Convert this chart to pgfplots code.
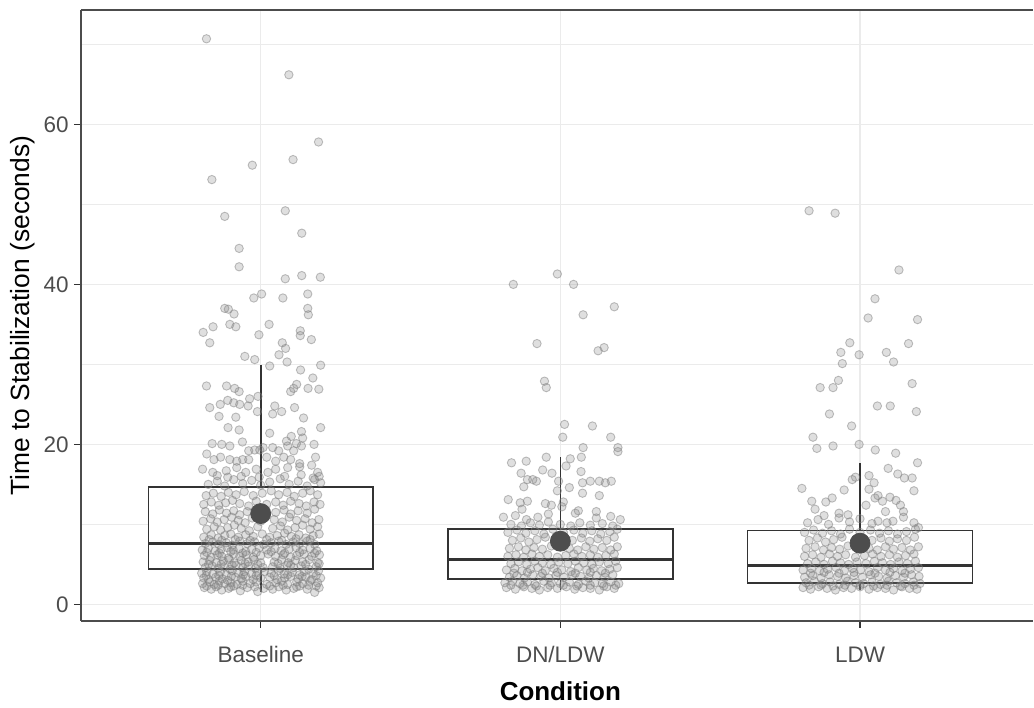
\documentclass[border=0pt]{standalone}
\usepackage{fontspec}
\setmainfont{Liberation Sans}
\usepackage{pgfplots}
\pgfplotsset{compat=1.18}
\usepgfplotslibrary{statistics}
\definecolor{gridc}{HTML}{EBEBEB}
\definecolor{framec}{HTML}{333333}
\definecolor{tickc}{HTML}{4D4D4D}
\definecolor{ptc}{HTML}{808080}
\definecolor{meanc}{HTML}{4D4D4D}

\begin{document}
\begin{tikzpicture}
\begin{axis}[
  name=ax, scale only axis, width=476.5pt, height=305.8pt,
  xmin=0.4, xmax=3.577, ymin=-2.07, ymax=74.3,
  axis x line*=box, axis y line*=left,
  x axis line style={-}, y axis line style={-},
  axis line style={black!70, line width=1.1pt},
  xtick={1,2,3}, xticklabels={Baseline,DN/LDW,LDW},
  ytick={0,20,40,60}, minor ytick={10,30,50,70},
  tick align=outside, xtick pos=bottom, ytick pos=left,
  major tick length=3.5pt, minor tick length=0pt,
  tick style={framec, line width=0.6pt},
  grid=both,
  major grid style={gridc, line width=0.6pt},
  minor grid style={gridc, line width=0.35pt},
  boxplot/draw direction=y,
  /pgf/number format/assume math mode=true,
  ticklabel style={font=\fontsize{11.25}{13}\selectfont, text=tickc},
  yticklabel style={inner sep=2.5pt},
  xticklabel style={anchor=base, yshift=-17.2pt},
  xlabel={Condition},
  xlabel style={font=\fontsize{13}{15}\selectfont\bfseries, at={(axis description cs:0.5036,-0.1308)}, anchor=base},
  ylabel={Time to Stabilization (seconds)},
  ylabel style={font=\fontsize{13.2}{15}\selectfont, at={(axis description cs:-0.0609,0.5)}, anchor=center},
]
% boxes
\addplot[draw=framec, fill=white, line width=0.8pt, boxplot prepared={draw position=1, box extend=0.75, lower whisker=1.5, lower quartile=4.45, median=7.65, upper quartile=14.7, upper whisker=29.9, whisker extend=0, every median/.style={line width=1.6pt}}] coordinates {};
\addplot[draw=framec, fill=white, line width=0.8pt, boxplot prepared={draw position=2, box extend=0.75, lower whisker=1.8, lower quartile=3.2, median=5.6, upper quartile=9.45, upper whisker=18.4, whisker extend=0, every median/.style={line width=1.6pt}}] coordinates {};
\addplot[draw=framec, fill=white, line width=0.8pt, boxplot prepared={draw position=3, box extend=0.75, lower whisker=1.8, lower quartile=2.7, median=4.9, upper quartile=9.24, upper whisker=17.7, whisker extend=0, every median/.style={line width=1.6pt}}] coordinates {};

% jittered points: Baseline
\addplot[only marks, mark=*, mark size=2.1pt, mark options={draw=ptc, fill=ptc, draw opacity=0.5, fill opacity=0.25, line width=0.45pt}] coordinates {
(0.819,70.7) (1.094,66.2) (1.193,57.8) (1.108,55.6) (0.972,54.9) (0.837,53.1) (1.082,49.2) (0.880,48.5) (1.137,46.4) (0.928,44.5)
(0.928,42.2) (1.137,41.1) (1.199,40.9) (1.082,40.7) (1.003,38.8) (1.157,38.8) (0.977,38.3) (1.074,38.3) (0.880,37.0) (0.892,36.9)
(1.157,37.0) (0.911,36.3) (1.159,36.2) (0.808,34.0) (0.841,34.7) (0.897,35.0) (0.917,34.7) (1.028,35.0) (0.994,33.7) (0.830,32.7)
(1.132,34.2) (1.132,33.6) (1.169,33.1) (1.072,32.7) (1.083,32.0) (1.061,31.2) (0.947,31.0) (0.980,30.6) (1.088,30.3) (1.030,29.8)
(1.200,29.9) (1.133,29.3) (1.174,28.3) (1.120,27.5) (1.110,27.0) (1.100,26.6) (0.819,27.3) (0.886,27.3) (0.913,27.0) (0.928,26.6)
(1.194,26.9) (1.158,27.0) (0.991,26.0) (0.963,25.7) (0.830,24.6) (0.865,25.0) (0.890,25.5) (0.910,25.2) (0.930,25.0) (0.958,24.8)
(1.047,24.8) (1.113,24.6) (0.861,23.5) (0.917,23.4) (0.989,24.1) (1.040,23.8) (1.070,24.1) (1.143,23.3) (0.891,22.1) (0.928,21.8)
(1.030,21.4) (1.136,21.6) (1.200,22.1) (1.086,20.4) (1.102,21.0) (1.119,20.1) (0.838,20.1) (0.870,20.0) (0.897,19.8) (0.939,20.3)
(1.140,20.8) (1.136,19.8) (1.178,20.0) (1.008,19.6) (0.960,19.2) (0.980,19.3) (0.997,19.3) (1.040,19.6) (1.060,19.2) (1.090,19.8)
(1.110,19.2) (0.820,18.8) (0.844,18.1) (0.866,18.4) (0.897,18.1) (0.920,17.9) (0.940,18.1) (0.960,18.1) (1.020,18.4) (1.050,17.9)
(1.077,18.4) (1.100,18.1) (1.130,17.6) (1.183,18.4) (0.806,16.9) (0.840,16.5) (0.885,16.7) (0.920,17.1) (0.950,16.5) (0.985,16.9)
(1.024,16.5) (1.050,16.9) (1.090,17.1) (1.130,17.2) (1.170,17.4) (1.190,16.5) (0.855,16.1) (0.890,15.9) (0.935,16.0) (0.995,15.9)
(1.080,16.0) (1.135,16.2) (1.175,15.8) (1.195,16.0)
(0.825,15.0) (0.855,15.4) (0.880,14.8) (0.910,15.6) (0.940,15.1) (0.970,15.5) (1.000,14.9) (1.030,15.3) (1.065,15.7) (1.095,15.0)
(1.125,15.4) (1.155,14.8) (1.180,15.6) (1.200,15.2)
(0.818,13.6) (0.842,13.9) (0.868,13.5) (0.892,14.0) (0.918,13.7) (0.945,14.1) (0.975,13.6) (1.005,13.9) (1.035,14.2) (1.060,13.7)
(1.088,14.0) (1.112,13.5) (1.140,13.9) (1.165,14.2) (1.190,13.7)
(0.810,12.5) (0.835,12.8) (0.860,12.4) (0.883,12.7) (0.906,13.0) (0.930,12.6) (0.960,12.3) (0.985,12.9) (1.020,12.5) (1.050,12.8)
(1.075,12.4) (1.100,12.9) (1.128,12.6) (1.152,12.3) (1.178,12.8) (1.198,12.5)
(0.815,11.6) (0.840,11.3) (0.862,11.8) (0.886,11.4) (0.910,11.7) (0.930,11.2) (0.955,11.6) (1.050,11.5) (1.078,11.8) (1.100,11.3)
(1.125,11.7) (1.155,11.4) (1.180,11.9)
(0.808,10.4) (0.833,10.7) (0.855,10.3) (0.878,10.6) (0.903,10.9) (0.925,10.5) (0.948,10.2) (0.972,10.8) (1.000,10.4) (1.045,10.6)
(1.072,10.3) (1.095,10.9) (1.120,10.5) (1.148,10.7) (1.172,10.2) (1.194,10.6)
(0.820,9.4) (0.845,9.7) (0.866,9.3) (0.890,9.6) (0.912,9.9) (0.935,9.5) (0.962,9.2) (0.990,9.7) (1.040,9.5) (1.066,9.8)
(1.090,9.3) (1.115,9.6) (1.140,9.9) (1.165,9.4) (1.190,9.7)
(0.810,8.4) (0.835,8.7) (0.858,8.3) (0.880,8.6) (0.900,8.8) (0.925,8.4) (0.950,8.7) (0.975,8.5) (1.005,8.8) (1.030,8.4)
(1.055,8.6) (1.080,8.9) (1.102,8.5) (1.128,8.7) (1.150,8.3) (1.175,8.6) (1.195,8.8)
(0.828,8.1) (0.870,8.0) (0.915,8.1) (0.965,8.0) (1.020,8.1) (1.070,8.0) (1.118,8.2) (1.165,8.1)
(0.815,7.6) (0.840,7.8) (0.860,7.5) (0.885,7.7) (0.905,7.4) (0.930,7.9) (0.955,7.6) (0.980,7.8) (1.010,7.5) (1.035,7.7)
(1.060,7.9) (1.085,7.5) (1.108,7.8) (1.130,7.6) (1.155,7.9) (1.180,7.5)
(0.805,6.8) (0.825,7.0) (0.848,6.7) (0.868,6.9) (0.888,7.1) (0.908,6.8) (0.928,7.0) (0.950,6.6) (0.970,6.9) (0.995,7.1)
(1.020,6.8) (1.048,7.0) (1.068,6.7) (1.095,6.9) (1.118,7.1) (1.140,6.8) (1.165,7.0) (1.187,6.7)
(0.820,6.5) (0.862,6.4) (0.900,6.6) (0.940,6.4) (0.985,6.5) (1.035,6.6) (1.080,6.4) (1.130,6.5) (1.180,6.4)
(0.812,6.1) (0.834,5.9) (0.855,6.2) (0.870,6.0) (0.892,5.8) (0.910,6.3) (0.930,6.0) (0.952,6.2) (0.975,5.9) (1.000,6.1)
(1.025,6.3) (1.050,6.0) (1.075,6.2) (1.100,5.9) (1.120,6.1) (1.145,6.3) (1.170,6.0) (1.196,6.2)
(0.808,5.3) (0.830,5.5) (0.852,5.2) (0.875,5.4) (0.895,5.6) (0.912,5.2) (0.935,5.5) (0.958,5.3) (0.978,5.6) (1.000,5.2) (1.045,5.3)
(1.070,5.6) (1.092,5.2) (1.115,5.5) (1.140,5.3) (1.162,5.6) (1.190,5.2)
(0.826,5.0) (0.868,5.0) (0.905,4.9) (0.948,5.1) (0.990,5.0) (1.058,5.1) (1.100,4.9) (1.150,5.0) (1.195,5.1)
(0.815,4.6) (0.838,4.8) (0.858,4.5) (0.878,4.7) (0.898,4.4) (0.918,4.9) (0.940,4.6) (0.960,4.8) (0.982,4.5) (1.008,4.6) (1.040,4.7)
(1.065,4.5) (1.088,4.9) (1.110,4.6) (1.135,4.8) (1.160,4.4) (1.185,4.7)
(0.803,3.9) (0.820,4.1) (0.840,3.8) (0.865,4.0) (0.885,3.7) (0.905,4.2) (0.925,3.9) (0.945,4.1) (0.970,3.8) (0.990,4.0) (1.012,4.1)
(1.035,3.9) (1.060,4.2) (1.078,3.8) (1.105,4.0) (1.130,3.7) (1.145,4.1) (1.175,3.9) (1.193,4.2)
(0.818,3.6) (0.860,3.6) (0.902,3.5) (0.942,3.7) (0.985,3.6) (1.045,3.6) (1.090,3.7) (1.138,3.5) (1.185,3.6)
(0.810,3.3) (0.826,3.1) (0.850,3.4) (0.872,3.2) (0.890,3.0) (0.915,3.4) (0.935,3.2) (0.950,3.5) (0.975,3.1) (1.000,3.3)
(1.030,3.4) (1.055,3.1) (1.080,3.3) (1.100,3.5) (1.125,3.2) (1.150,3.4) (1.170,3.1) (1.200,3.3)
(0.806,2.6) (0.830,2.8) (0.845,2.5) (0.862,2.9) (0.880,2.6) (0.900,2.7) (0.921,2.5) (0.940,2.9) (0.965,2.6) (0.985,2.8)
(1.020,2.5) (1.050,2.7) (1.070,2.9) (1.090,2.5) (1.120,2.8) (1.140,2.6) (1.165,2.9) (1.190,2.7)
(0.820,2.3) (0.858,2.4) (0.900,2.2) (0.940,2.4) (0.980,2.2) (1.030,2.3) (1.075,2.4) (1.120,2.2) (1.160,2.4) (1.185,2.3)
(0.812,2.1) (0.835,1.9) (0.851,2.2) (0.870,1.8) (0.893,2.0) (0.910,2.3) (0.932,1.7) (0.955,2.1) (0.990,1.6) (1.010,2.0)
(1.040,1.9) (1.060,2.2) (1.085,1.8) (1.110,2.0) (1.130,2.3) (1.155,1.9) (1.180,1.5) (1.195,2.1)
};

% jittered points: DN/LDW
\addplot[only marks, mark=*, mark size=2.1pt, mark options={draw=ptc, fill=ptc, draw opacity=0.5, fill opacity=0.25, line width=0.45pt}] coordinates {
(1.843,40.0) (1.990,41.3) (2.044,40.0) (2.180,37.2) (2.076,36.2) (1.922,32.6) (2.126,31.7) (2.146,32.1) (1.947,27.9) (1.953,27.1)
(2.014,22.5) (2.107,22.3) (2.008,20.9) (2.168,20.9) (2.076,19.6) (2.192,19.6) (2.192,19.1) (1.953,18.4) (1.837,17.7) (1.886,17.9)
(2.033,18.2) (2.070,18.4) (1.941,16.8) (1.972,16.4) (1.869,16.4) (1.908,15.6) (1.920,15.4) (1.890,15.6) (2.019,17.3) (2.069,16.6)
(2.074,15.2) (2.100,15.4) (2.130,15.4) (2.170,15.4) (2.150,15.2) (1.878,14.7) (1.994,15.4) (2.030,14.6) (1.990,14.2) (2.074,13.9)
(2.130,13.6) (1.826,13.1) (1.866,12.7) (1.890,12.9) (1.872,11.9) (1.950,12.6) (1.970,12.4) (2.005,12.2) (2.010,12.8) (2.060,11.7)
(2.120,11.6) (1.810,10.9) (1.850,11.1) (1.887,10.6) (1.925,10.9) (2.120,10.8) (2.168,11.0) (2.200,10.6) (1.960,11.3) (2.050,11.4)
(1.835,10.0) (1.870,9.8) (1.900,10.2) (1.930,9.9) (1.960,10.3) (2.000,10.0) (2.035,9.8) (2.065,10.2) (2.100,9.9) (2.140,10.1) (2.175,9.8)
(1.825,9.0) (1.855,9.3) (1.885,8.9) (1.915,9.2) (1.945,8.8) (1.975,9.4) (2.010,9.0) (2.045,9.3) (2.075,8.9) (2.105,9.2) (2.135,8.8) (2.165,9.1) (2.190,9.4)
(1.840,8.0) (1.868,8.3) (1.895,7.8) (1.922,8.1) (1.950,8.4) (2.040,8.0) (2.070,8.3) (2.098,7.9) (2.125,8.2) (2.155,8.0) (2.180,8.4)
(1.830,7.0) (1.860,7.2) (1.885,6.8) (1.912,7.1) (1.940,6.9) (1.970,7.3) (2.030,7.0) (2.058,6.8) (2.085,7.2) (2.112,6.9) (2.140,7.1) (2.168,6.8) (2.190,7.2)
(1.825,6.0) (1.852,6.2) (1.878,5.9) (1.905,6.3) (1.930,6.0) (1.958,6.2) (1.990,5.9) (2.018,6.1) (2.045,6.3) (2.072,6.0) (2.100,6.2) (2.125,5.9) (2.152,6.1) (2.180,6.3)
(1.835,5.1) (1.860,5.3) (1.888,5.0) (1.915,5.4) (1.940,5.2) (1.968,5.0) (1.995,5.3) (2.025,5.1) (2.050,5.4) (2.078,5.2) (2.105,5.0) (2.130,5.3) (2.160,5.1) (2.185,5.4)
(1.820,4.3) (1.848,4.5) (1.872,4.2) (1.900,4.4) (1.925,4.6) (1.950,4.2) (1.978,4.5) (2.005,4.3) (2.035,4.1) (2.060,4.6) (2.088,4.3) (2.110,4.5) (2.138,4.2) (2.165,4.4) (2.190,4.6)
(1.845,3.9) (1.890,4.0) (1.940,3.9) (1.990,4.0) (2.050,3.9) (2.100,4.0) (2.150,3.9)
(1.830,3.4) (1.855,3.6) (1.880,3.3) (1.908,3.7) (1.935,3.5) (1.962,3.3) (1.985,3.6) (2.012,3.4) (2.040,3.7) (2.068,3.5) (2.095,3.3) (2.120,3.6) (2.148,3.4) (2.175,3.7)
(1.815,2.7) (1.840,2.9) (1.865,2.6) (1.890,2.8) (1.915,2.5) (1.945,2.9) (1.970,2.7) (2.000,2.6) (2.030,2.8) (2.060,2.5) (2.085,2.9) (2.115,2.7) (2.140,2.6) (2.168,2.8) (2.195,2.6)
(1.835,2.4) (1.875,2.4) (1.920,2.3) (1.965,2.4) (2.010,2.4) (2.055,2.3) (2.100,2.4) (2.145,2.3) (2.185,2.4)
(1.820,2.1) (1.850,1.9) (1.878,2.2) (1.905,2.0) (1.930,1.8) (1.958,2.1) (1.990,2.0) (2.020,2.2) (2.048,1.9) (2.075,2.1) (2.100,2.0) (2.130,1.8) (2.155,2.2) (2.180,2.0)
};

% jittered points: LDW
\addplot[only marks, mark=*, mark size=2.1pt, mark options={draw=ptc, fill=ptc, draw opacity=0.5, fill opacity=0.25, line width=0.45pt}] coordinates {
(2.830,49.2) (2.917,48.9) (3.130,41.8) (3.050,38.2) (3.027,35.8) (3.192,35.6) (2.966,32.7) (2.936,31.5) (2.997,31.2) (2.941,30.1)
(3.088,31.5) (3.112,30.3) (3.162,32.6) (2.928,28.0) (2.910,27.1) (2.867,27.1) (3.174,27.6) (3.058,24.8) (3.101,24.8) (3.188,24.1)
(2.898,23.8) (2.972,22.3) (2.843,20.9) (2.856,19.5) (2.910,19.8) (2.997,20.0) (3.051,19.3) (3.119,18.9) (3.192,17.7) (3.094,17.0)
(3.126,16.3) (3.148,15.8) (3.174,15.8) (2.974,15.6) (3.030,16.1) (3.047,15.2) (2.985,15.9) (2.806,14.5) (3.180,14.2) (2.947,14.3)
(2.907,13.3) (2.886,12.8) (2.839,12.9) (3.030,14.4) (3.050,13.3) (3.060,13.6) (3.075,12.9) (3.100,13.4) (3.120,13.0) (3.135,12.4)
(3.145,11.6) (3.085,11.6) (3.020,12.4) (2.850,11.9) (2.880,11.1) (2.930,11.4) (2.960,11.2) (3.000,10.7) (3.060,10.4) (3.090,10.2) (3.195,9.6)
(2.825,10.2) (2.860,10.6) (2.895,10.0) (2.930,10.8) (2.965,10.3) (3.040,10.1) (3.110,10.4) (3.145,10.9) (3.180,10.2)
(2.815,9.0) (2.845,9.3) (2.875,8.9) (2.905,9.2) (2.935,8.8) (2.965,9.4) (3.000,9.0) (3.035,9.3) (3.065,8.9) (3.095,9.2) (3.125,8.8) (3.155,9.1) (3.185,9.4)
(2.830,8.0) (2.858,8.3) (2.885,7.8) (2.912,8.1) (2.940,8.4) (3.040,8.0) (3.070,8.3) (3.098,7.9) (3.125,8.2) (3.155,8.0) (3.182,8.4)
(2.820,7.0) (2.850,7.2) (2.878,6.8) (2.905,7.1) (2.932,6.9) (2.960,7.3) (3.030,7.0) (3.058,6.8) (3.085,7.2) (3.112,6.9) (3.140,7.1) (3.168,6.8) (3.195,7.2)
(2.815,6.0) (2.842,6.2) (2.870,5.9) (2.898,6.3) (2.925,6.0) (2.952,6.2) (2.985,5.9) (3.015,6.1) (3.042,6.3) (3.070,6.0) (3.098,6.2) (3.125,5.9) (3.152,6.1) (3.180,6.3)
(2.825,5.1) (2.852,5.3) (2.880,5.0) (2.908,5.4) (2.935,5.2) (2.962,5.0) (2.990,5.3) (3.020,5.1) (3.048,5.4) (3.075,5.2) (3.102,5.0) (3.130,5.3) (3.158,5.1) (3.185,5.4)
(2.810,4.3) (2.838,4.5) (2.865,4.2) (2.892,4.4) (2.920,4.6) (2.948,4.2) (2.975,4.5) (3.002,4.3) (3.030,4.1) (3.058,4.6) (3.085,4.3) (3.112,4.5) (3.140,4.2) (3.168,4.4) (3.195,4.6)
(2.835,3.9) (2.880,4.0) (2.930,3.9) (2.980,4.0) (3.050,3.9) (3.100,4.0) (3.150,3.9)
(2.815,3.4) (2.842,3.6) (2.870,3.3) (2.897,3.7) (2.925,3.5) (2.952,3.3) (2.980,3.6) (3.008,3.4) (3.035,3.7) (3.062,3.5) (3.090,3.3) (3.118,3.6) (3.145,3.4) (3.172,3.7) (3.197,3.5)
(2.820,2.7) (2.848,2.9) (2.875,2.6) (2.900,2.8) (2.930,2.5) (2.958,2.9) (2.985,2.7) (3.012,2.6) (3.040,2.8) (3.068,2.5) (3.095,2.9) (3.122,2.7) (3.150,2.6) (3.178,2.8) (3.200,2.6)
(2.830,2.4) (2.870,2.4) (2.910,2.3) (2.950,2.4) (3.000,2.4) (3.045,2.3) (3.090,2.4) (3.135,2.3) (3.180,2.4)
(2.810,2.1) (2.835,1.9) (2.862,2.2) (2.890,2.0) (2.918,1.8) (2.945,2.1) (2.972,2.0) (3.000,2.2) (3.030,1.9) (3.058,2.1) (3.085,2.0) (3.112,1.8) (3.140,2.2) (3.165,2.0) (3.190,1.9)
};

% group means
\addplot[only marks, mark=*, mark size=5pt, mark options={fill=meanc, draw=meanc}] coordinates {(1,11.35) (2,7.9) (3,7.65)};
\end{axis}
\path ([shift={(-40.5pt,-43.2pt)}]ax.south west) rectangle ([shift={(0pt,5pt)}]ax.north east);
\end{tikzpicture}
\end{document}
